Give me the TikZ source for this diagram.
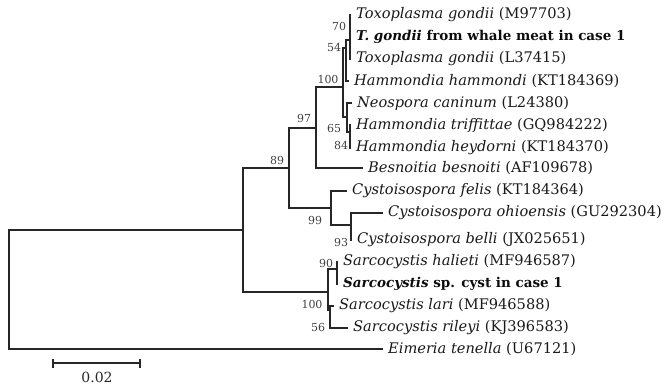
\documentclass[tikz,border=0pt]{standalone}
\usepackage{fontspec}
\setmainfont{DejaVu Serif}
\begin{document}
\begin{tikzpicture}[x=1pt,y=-1pt,
  br/.style={line width=1.1pt, draw=black!85},
  thk/.style={line width=2.2pt, draw=black!85},
  lf/.style={anchor=west, inner sep=0pt, font=\fontsize{14.6}{17}\selectfont, text=black!90},
  lfb/.style={anchor=west, inner sep=0pt, font=\fontsize{13.5}{16}\selectfont, text=black!95},
  bs/.style={inner sep=0pt, font=\fontsize{11}{12}\selectfont, text=black!75}]
\useasboundingbox (0,0) rectangle (666,385);
% internal nodes (entry points)
\coordinate (R) at (9,290);
\coordinate (I) at (243,230);
\coordinate (N89) at (289,168);
\coordinate (N97) at (316,128);
\coordinate (N100) at (343,87);
\coordinate (Nt) at (346,48);
\coordinate (N54) at (350,40);
\coordinate (N70) at (350,26);
\coordinate (N65) at (347,117);
\coordinate (N84) at (350,132);
\coordinate (N99) at (331,208);
\coordinate (N93) at (351,225);
\coordinate (S) at (328,292);
\coordinate (N90) at (337,269);
\coordinate (N56) at (330,310);
% leaves
\coordinate (L1) at (351,15);
\coordinate (L2) at (351,37);
\coordinate (L3) at (351,59);
\coordinate (L4) at (349,81);
\coordinate (L5) at (352,103);
\coordinate (L6) at (351,125);
\coordinate (L7) at (351,148);
\coordinate (L8) at (363,168);
\coordinate (L9) at (347,191);
\coordinate (L10) at (383,213);
\coordinate (L11) at (352,240);
\coordinate (L12) at (338,262);
\coordinate (L13) at (338,284);
\coordinate (L14) at (334,306);
\coordinate (L15) at (348,328);
\coordinate (L16) at (383,349);
% branches
\draw[br] (R) |- (I);
\draw[br] (R) |- (L16);
\draw[br] (I) |- (N89);
\draw[br] (I) |- (S);
\draw[br] (N89) |- (N97);
\draw[br] (N89) |- (N99);
\draw[br] (N97) |- (N100);
\draw[br] (N97) |- (L8);
\draw[br] (N100) |- (Nt);
\draw[br] (N100) |- (N65);
\draw[br] (Nt) |- (N54);
\draw[br] (Nt) |- (L4);
\draw[thk] (N54) |- (N70);
\draw[thk] (N54) |- (L3);
\draw[thk] (N70) |- (L1);
\draw[thk] (N70) |- (L2);
\draw[br] (N65) |- (L5);
\draw[br] (N65) |- (N84);
\draw[thk] (N84) |- (L6);
\draw[thk] (N84) |- (L7);
\draw[br] (N99) |- (L9);
\draw[br] (N99) |- (N93);
\draw[br] (N93) |- (L10);
\draw[thk] (N93) |- (L11);
\draw[br] (S) |- (N90);
\draw[br] (S) |- (N56);
\draw[thk] (N90) |- (L12);
\draw[thk] (N90) |- (L13);
\draw[thk] (N56) |- (L14);
\draw[br] (N56) |- (L15);
% leaf labels
\node[lf] (t1) at ([xshift=5pt]L1) {\textit{Toxoplasma gondii} (M97703)};
\node[lfb] (t2) at ([xshift=5pt]L2) {\textbf{\textit{T. gondii} from whale meat in case 1}};
\node[lf] (t3) at ([xshift=5pt]L3) {\textit{Toxoplasma gondii} (L37415)};
\node[lf] (t4) at ([xshift=5pt]L4) {\textit{Hammondia hammondi} (KT184369)};
\node[lf] (t5) at ([xshift=5pt]L5) {\textit{Neospora caninum} (L24380)};
\node[lf] (t6) at ([xshift=5pt]L6) {\textit{Hammondia triffittae} (GQ984222)};
\node[lf] (t7) at ([xshift=5pt]L7) {\textit{Hammondia heydorni} (KT184370)};
\node[lf] (t8) at ([xshift=5pt]L8) {\textit{Besnoitia besnoiti} (AF109678)};
\node[lf] (t9) at ([xshift=5pt]L9) {\textit{Cystoisospora felis} (KT184364)};
\node[lf] (t10) at ([xshift=5pt]L10) {\textit{Cystoisospora ohioensis} (GU292304)};
\node[lf] (t11) at ([xshift=5pt]L11) {\textit{Cystoisospora belli} (JX025651)};
\node[lf] (t12) at ([xshift=5pt]L12) {\textit{Sarcocystis halieti} (MF946587)};
\node[lfb] (t13) at ([xshift=5pt]L13) {\textbf{\textit{Sarcocystis} sp. cyst in case 1}};
\node[lf] (t14) at ([xshift=5pt]L14) {\textit{Sarcocystis lari} (MF946588)};
\node[lf] (t15) at ([xshift=5pt]L15) {\textit{Sarcocystis rileyi} (KJ396583)};
\node[lf] (t16) at ([xshift=5pt]L16) {\textit{Eimeria tenella} (U67121)};
% bootstrap values
\node[bs] (b70) at (339,26) {70};
\node[bs] (b54) at (334,47) {54};
\node[bs] (b100a) at (328,79) {100};
\node[bs] (b65) at (334,128) {65};
\node[bs] (b84) at (341,145) {84};
\node[bs] (b97) at (304,118) {97};
\node[bs] (b89) at (277,160) {89};
\node[bs] (b99) at (315,220) {99};
\node[bs] (b93) at (341,242) {93};
\node[bs] (b90) at (326,263) {90};
\node[bs] (b100b) at (312,304) {100};
\node[bs] (b56) at (318,327) {56};
% scale bar
\coordinate (sb1) at (53,363);
\coordinate (sb2) at (140,363);
\draw[line width=1.6pt, draw=black!85] (sb1) -- (sb2);
\draw[line width=1.6pt, draw=black!85] ([yshift=-4.5pt]sb1) -- ([yshift=4.5pt]sb1);
\draw[line width=1.6pt, draw=black!85] ([yshift=-4.5pt]sb2) -- ([yshift=4.5pt]sb2);
\node[inner sep=0pt, font=\fontsize{14}{16}\selectfont, text=black!85] (sbl) at (97,377) {0.02};
\end{tikzpicture}
\end{document}
